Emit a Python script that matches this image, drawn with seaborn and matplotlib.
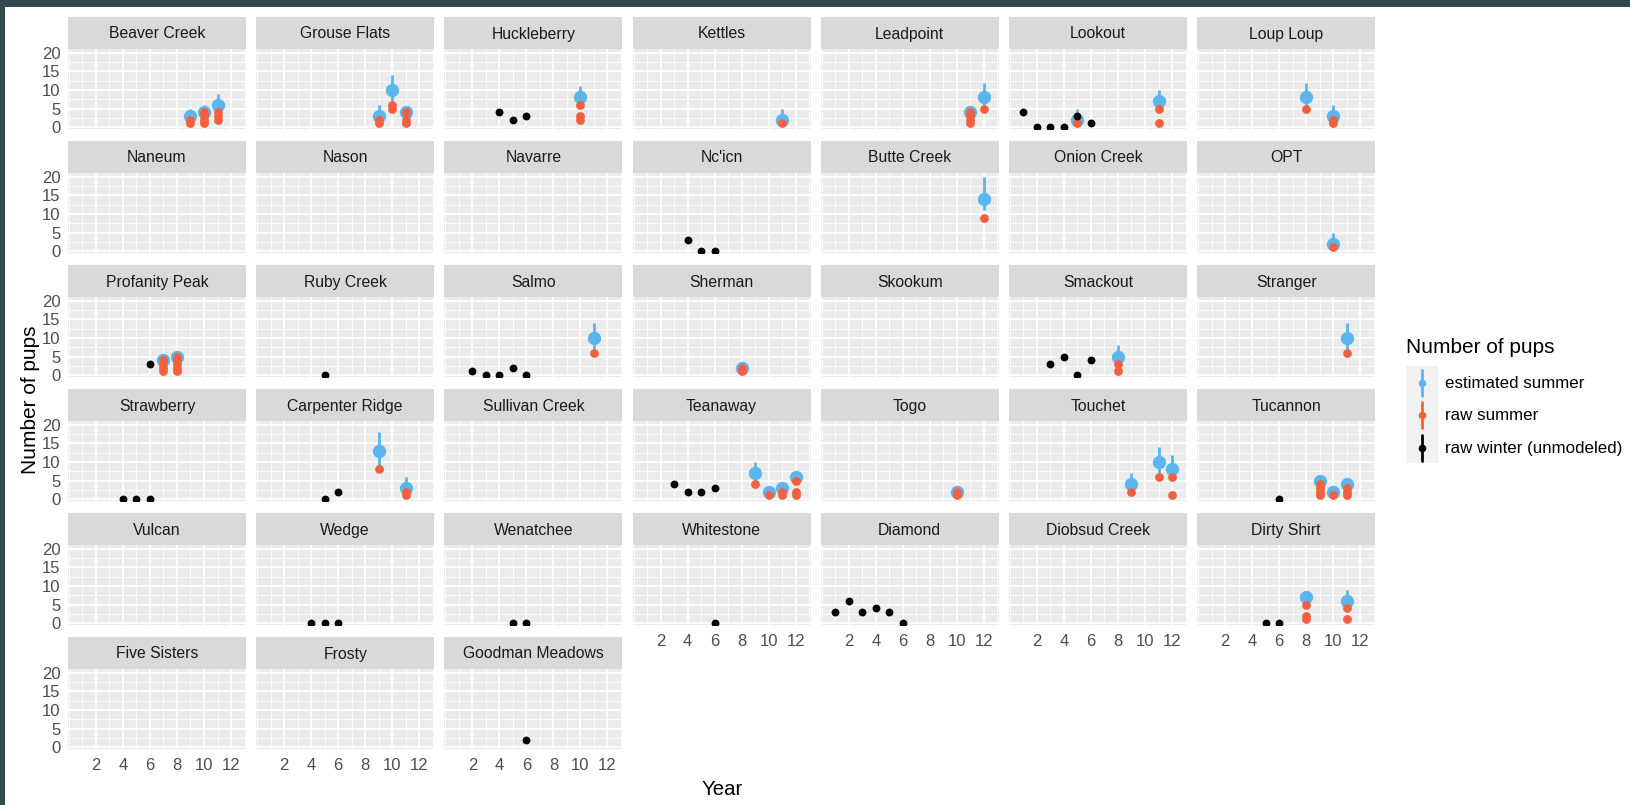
import matplotlib
matplotlib.use("Agg")
import matplotlib.pyplot as plt
import numpy as np
import pandas as pd
import seaborn as sns
from matplotlib.patches import Rectangle
from matplotlib.lines import Line2D

# ---------------------------------------------------------------- data
packs = [
    "Beaver Creek", "Grouse Flats", "Huckleberry", "Kettles", "Leadpoint", "Lookout", "Loup Loup",
    "Naneum", "Nason", "Navarre", "Nc'icn", "Butte Creek", "Onion Creek", "OPT",
    "Profanity Peak", "Ruby Creek", "Salmo", "Sherman", "Skookum", "Smackout", "Stranger",
    "Strawberry", "Carpenter Ridge", "Sullivan Creek", "Teanaway", "Togo", "Touchet", "Tucannon",
    "Vulcan", "Wedge", "Wenatchee", "Whitestone", "Diamond", "Diobsud Creek", "Dirty Shirt",
    "Five Sisters", "Frosty", "Goodman Meadows",
]

# modelled summer pup counts with interval
est_pack = ["Beaver Creek", "Beaver Creek", "Beaver Creek",
            "Grouse Flats", "Grouse Flats", "Grouse Flats",
            "Huckleberry", "Kettles", "Leadpoint", "Leadpoint",
            "Lookout", "Lookout", "Loup Loup", "Loup Loup",
            "Butte Creek", "OPT", "Profanity Peak", "Profanity Peak",
            "Salmo", "Sherman", "Smackout", "Stranger",
            "Carpenter Ridge", "Carpenter Ridge",
            "Teanaway", "Teanaway", "Teanaway", "Teanaway",
            "Togo", "Touchet", "Touchet", "Touchet",
            "Tucannon", "Tucannon", "Tucannon",
            "Dirty Shirt", "Dirty Shirt"]
est_year = [9, 10, 11, 9, 10, 11, 10, 11, 11, 12, 5, 11, 8, 10, 12, 10, 7, 8,
            11, 8, 8, 11, 9, 11, 9, 10, 11, 12, 10, 9, 11, 12, 9, 10, 11, 8, 11]
est_pups = [3, 4, 6, 3, 10, 4, 8, 2, 4, 8, 2, 7, 8, 3, 14, 2, 4, 5,
            10, 2, 5, 10, 13, 3, 7, 2, 3, 6, 2, 4, 10, 8, 5, 2, 4, 7, 6]
est_low = [2, 3, 4, 2, 7, 3, 6, 1, 3, 6, 1, 5, 6, 2, 11, 1, 3, 4,
           7, 1, 4, 7, 9, 2, 5, 1, 2, 5, 1, 3, 7, 5, 4, 1, 3, 6, 5]
est_high = [5, 6, 9, 6, 14, 5, 11, 5, 5, 12, 5, 10, 12, 6, 20, 5, 5, 6,
            14, 3, 8, 14, 18, 6, 10, 3, 4, 7, 3, 7, 14, 12, 6, 3, 5, 8, 9]

# raw summer counts
raw_pack = ["Beaver Creek", "Beaver Creek", "Beaver Creek", "Beaver Creek", "Beaver Creek",
            "Beaver Creek", "Beaver Creek", "Beaver Creek", "Beaver Creek",
            "Grouse Flats", "Grouse Flats", "Grouse Flats", "Grouse Flats", "Grouse Flats",
            "Grouse Flats", "Grouse Flats",
            "Huckleberry", "Huckleberry", "Huckleberry",
            "Kettles",
            "Leadpoint", "Leadpoint", "Leadpoint", "Leadpoint", "Leadpoint",
            "Lookout", "Lookout", "Lookout",
            "Loup Loup", "Loup Loup", "Loup Loup",
            "Butte Creek", "OPT",
            "Profanity Peak", "Profanity Peak", "Profanity Peak", "Profanity Peak", "Profanity Peak",
            "Profanity Peak", "Profanity Peak", "Profanity Peak", "Profanity Peak",
            "Salmo", "Sherman", "Sherman", "Smackout", "Smackout", "Stranger",
            "Carpenter Ridge", "Carpenter Ridge", "Carpenter Ridge",
            "Teanaway", "Teanaway", "Teanaway", "Teanaway", "Teanaway", "Teanaway", "Teanaway",
            "Togo", "Togo",
            "Touchet", "Touchet", "Touchet", "Touchet",
            "Tucannon", "Tucannon", "Tucannon", "Tucannon", "Tucannon", "Tucannon", "Tucannon",
            "Tucannon",
            "Dirty Shirt", "Dirty Shirt", "Dirty Shirt", "Dirty Shirt", "Dirty Shirt"]
raw_year = [9, 9, 10, 10, 10, 10, 11, 11, 11,
            9, 9, 10, 10, 11, 11, 11,
            10, 10, 10,
            11,
            11, 11, 11, 11, 12,
            5, 11, 11,
            8, 10, 10,
            12, 10,
            7, 7, 7, 7, 8, 8, 8, 8, 8,
            11, 8, 8, 8, 8, 11,
            9, 11, 11,
            9, 10, 11, 11, 12, 12, 12,
            10, 10,
            9, 11, 12, 12,
            9, 9, 9, 9, 10, 11, 11, 11,
            8, 8, 8, 11, 11]
raw_pups = [1, 2, 1, 2, 3, 4, 2, 3, 4,
            1, 2, 5, 6, 1, 2, 4,
            2, 3, 6,
            1,
            1, 2, 3, 4, 5,
            1, 1, 5,
            5, 1, 2,
            9, 1,
            1, 2, 3, 4, 1, 2, 3, 4, 5,
            6, 1, 2, 1, 3, 6,
            8, 1, 2,
            4, 1, 1, 2, 1, 2, 5,
            1, 2,
            2, 6, 1, 6,
            1, 2, 3, 4, 1, 1, 2, 3,
            1, 2, 5, 1, 4]

# raw winter counts (not modelled)
win_pack = ["Huckleberry", "Huckleberry", "Huckleberry",
            "Lookout", "Lookout", "Lookout", "Lookout", "Lookout", "Lookout",
            "Nc'icn", "Nc'icn", "Nc'icn",
            "Profanity Peak", "Ruby Creek",
            "Salmo", "Salmo", "Salmo", "Salmo", "Salmo",
            "Smackout", "Smackout", "Smackout", "Smackout",
            "Strawberry", "Strawberry", "Strawberry",
            "Carpenter Ridge", "Carpenter Ridge",
            "Teanaway", "Teanaway", "Teanaway", "Teanaway",
            "Tucannon",
            "Wedge", "Wedge", "Wedge",
            "Wenatchee", "Wenatchee",
            "Whitestone",
            "Diamond", "Diamond", "Diamond", "Diamond", "Diamond", "Diamond",
            "Dirty Shirt", "Dirty Shirt",
            "Goodman Meadows"]
win_year = [4, 5, 6,
            1, 2, 3, 4, 5, 6,
            4, 5, 6,
            6, 5,
            2, 3, 4, 5, 6,
            3, 4, 5, 6,
            4, 5, 6,
            5, 6,
            3, 4, 5, 6,
            6,
            4, 5, 6,
            5, 6,
            6,
            1, 2, 3, 4, 5, 6,
            5, 6,
            6]
win_pups = [4, 2, 3,
            4, 0, 0, 0, 3, 1,
            3, 0, 0,
            3, 0,
            1, 0, 0, 2, 0,
            3, 5, 0, 4,
            0, 0, 0,
            0, 2,
            4, 2, 2, 3,
            0,
            0, 0, 0,
            0, 0,
            0,
            3, 6, 3, 4, 3, 0,
            0, 0,
            2]

legend_labels = ["estimated summer", "raw summer", "raw winter (unmodeled)"]
x_breaks = [2, 4, 6, 8, 10, 12]
y_breaks = [0, 5, 10, 15, 20]

est = pd.DataFrame({"pack": est_pack, "year": est_year, "pups": est_pups,
                    "low": est_low, "high": est_high})
raw = pd.DataFrame({"pack": raw_pack, "year": raw_year, "pups": raw_pups})
win = pd.DataFrame({"pack": win_pack, "year": win_year, "pups": win_pups})

# ---------------------------------------------------------------- style
sns.set_theme(style="darkgrid")
plt.rcParams["font.family"] = ["Liberation Sans", "DejaVu Sans"]

BLUE = "#5AB6EC"
RED = "#F2603F"
BLACK = "#000000"
PANEL_BG = "#EBEBEB"
STRIP_BG = "#D9D9D9"
AXIS_TXT = "#4D4D4D"

W, H = 1630, 805
fig = plt.figure(figsize=(W / 100, H / 100), dpi=100)
fig.patch.set_facecolor("white")

NCOL = 7
COL_X0 = 68.0
COL_STEP = 188.2
PANEL_W = 178.0
ROW_Y0 = 17.0
ROW_STEP = 124.0
STRIP_H = 32.0
PANEL_H = 80.0

XLIM = (-0.07, 13.11)
YLIM = (-0.54, 21.08)


def fx(px):
    return px / W


def fy(py):
    return 1 - py / H


n = len(packs)
for i, pack in enumerate(packs):
    r, c = divmod(i, NCOL)
    x0 = COL_X0 + COL_STEP * c
    strip_top = ROW_Y0 + ROW_STEP * r
    p_top = strip_top + STRIP_H
    ax = fig.add_axes([fx(x0), fy(p_top + PANEL_H), PANEL_W / W, PANEL_H / H])

    # strip with facet title
    fig.add_artist(Rectangle((fx(x0), fy(p_top)), PANEL_W / W, STRIP_H / H,
                             transform=fig.transFigure, facecolor=STRIP_BG,
                             edgecolor="none", zorder=1))
    fig.text(fx(x0 + PANEL_W / 2), fy(strip_top + STRIP_H / 2 + 1), pack,
             ha="center", va="center", fontsize=11.3, color="#1A1A1A")

    e = est[est.pack == pack]
    rw = raw[raw.pack == pack]
    wn = win[win.pack == pack]

    if len(e):
        ax.vlines(e.year, e.low, e.high, color=BLUE, lw=2.0, zorder=3)
        sns.scatterplot(data=e, x="year", y="pups", color=BLUE, s=92,
                        linewidth=0, ax=ax, legend=False, zorder=4)
    if len(rw):
        sns.scatterplot(data=rw, x="year", y="pups", color=RED, s=40,
                        linewidth=0, ax=ax, legend=False, zorder=5)
    if len(wn):
        sns.scatterplot(data=wn, x="year", y="pups", color=BLACK, s=32,
                        linewidth=0, ax=ax, legend=False, zorder=6)

    ax.set_xlabel("")
    ax.set_ylabel("")
    ax.set_facecolor(PANEL_BG)
    for sp in ax.spines.values():
        sp.set_visible(False)
    ax.set_xlim(*XLIM)
    ax.set_ylim(*YLIM)
    ax.set_xticks(x_breaks)
    ax.set_xticks([0, 1, 3, 5, 7, 9, 11, 13], minor=True)
    ax.set_yticks(y_breaks)
    ax.set_yticks([2.5, 7.5, 12.5, 17.5], minor=True)
    ax.grid(which="major", color="white", lw=1.25)
    ax.grid(which="minor", color="white", lw=0.6)
    ax.set_axisbelow(True)
    ax.tick_params(which="minor", length=0)
    ax.tick_params(which="major", length=3.8, width=1.0, color="#333333",
                   labelsize=12, labelcolor=AXIS_TXT)
    ax.tick_params(axis="y", pad=1.5)
    ax.tick_params(axis="x", pad=2.5)

    if c != 0:
        ax.tick_params(axis="y", length=0, labelleft=False)
    if i + NCOL < n:
        ax.tick_params(axis="x", length=0, labelbottom=False)

# axis titles
fig.text(fx(722), fy(789), "Year", ha="center", va="center", fontsize=14.7, color="black")
fig.text(fx(31), fy(400), "Number of pups", ha="center", va="center",
         rotation=90, fontsize=15, color="black")

# legend
fig.text(fx(1406), fy(347), "Number of pups", ha="left", va="center", fontsize=15,
         color="black")
fig.add_artist(Rectangle((fx(1406), fy(463)), 32 / W, 97 / H, transform=fig.transFigure,
                         facecolor="#F2F2F2", edgecolor="none"))
for k, (lab, col) in enumerate(zip(legend_labels, [BLUE, RED, BLACK])):
    yc = 383 + 32.5 * k
    fig.add_artist(Line2D([fx(1422), fx(1422)], [fy(yc - 13), fy(yc + 13)],
                          transform=fig.transFigure, color=col, lw=2.0))
    fig.add_artist(Line2D([fx(1422)], [fy(yc)], transform=fig.transFigure,
                          marker="o", markersize=5.5, color=col, markeredgewidth=0))
    fig.text(fx(1445), fy(yc), lab, ha="left", va="center", fontsize=12.2, color="black")

# dark frame on the top and left edges
FRAME = "#37474F"
fig.add_artist(Rectangle((0, fy(7)), 1, 7 / H, transform=fig.transFigure,
                         facecolor=FRAME, edgecolor="none"))
fig.add_artist(Rectangle((0, 0), 5 / W, 1, transform=fig.transFigure,
                         facecolor=FRAME, edgecolor="none"))

fig.savefig("out.png", dpi=100)
